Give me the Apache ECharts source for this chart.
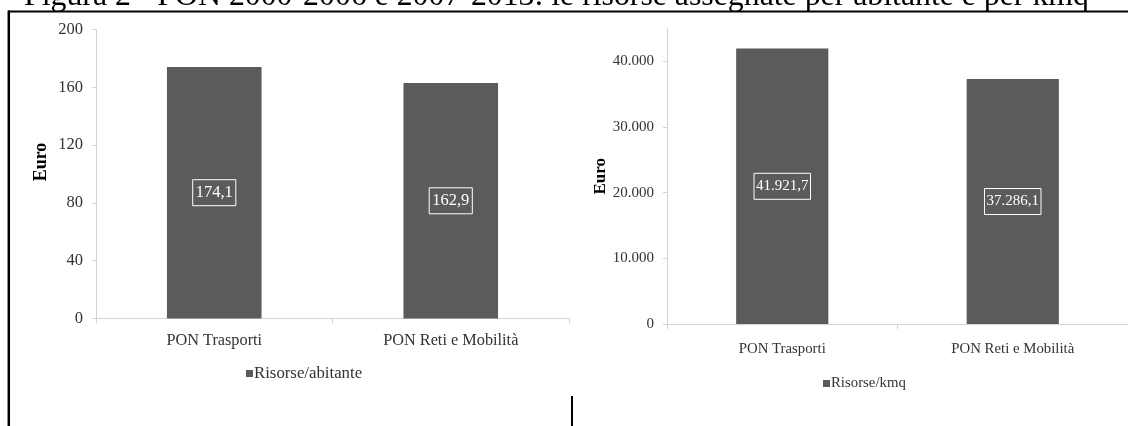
<!DOCTYPE html>
<html>
<head>
<meta charset="utf-8">
<script src="https://cdn.jsdelivr.net/npm/echarts@6/dist/echarts.min.js"></script>
<style>
  html, body { margin: 0; padding: 0; background: #fff; }
  #chart { width: 1128px; height: 426px; }
</style>
</head>
<body>
<div id="chart"></div>
<script>
// Programmi e valori
const categories = ['PON Trasporti', 'PON Reti e Mobilità'];
const risorsePerAbitante = [174.1, 162.9];
const risorsePerKmq = [41921.7, 37286.1];
const seriesNames = ['Risorse/abitante', 'Risorse/kmq'];
const abitanteTicks = [0, 40, 80, 120, 160, 200];
const kmqTicks = [0, 10000, 20000, 30000, 40000];
const titleText = 'Figura 2 - PON 2000-2006 e 2007-2013: le risorse assegnate per abitante e per kmq';

const SERIF = '"Liberation Serif", "Times New Roman", serif';
const BAR = '#5b5b5b';
const AXIS = '#d4d4d4';
const TEXT = '#333333';

// Formattazione italiana: punto per le migliaia, virgola per i decimali
function itNumber(v, decimals) {
  const fixed = Number(v).toFixed(decimals);
  const parts = fixed.split('.');
  const intPart = parts[0].replace(/\B(?=(\d{3})+(?!\d))/g, '.');
  return parts.length > 1 ? intPart + ',' + parts[1] : intPart;
}

const chart = echarts.init(document.getElementById('chart'));

const valueLabel = (fontSize, padding) => ({
  show: true,
  position: 'inside',
  color: '#fff',
  borderColor: '#fff',
  borderWidth: 1,
  padding: padding,
  fontFamily: SERIF,
  fontSize: fontSize,
  formatter: p => itNumber(p.value, 1)
});

chart.setOption({
  animation: false,
  backgroundColor: '#fff',
  textStyle: { fontFamily: SERIF },
  grid: [
    { left: 96, right: 559, top: 29.5, bottom: 107.5 },
    { left: 667, right: 0, top: 28.4, bottom: 102 }
  ],
  legend: [
    {
      data: [seriesNames[0]], left: 246, top: 365, padding: 0,
      icon: 'rect', itemWidth: 7, itemHeight: 7, itemGap: 4,
      textStyle: { fontFamily: SERIF, fontSize: 16.8, color: TEXT, padding: [0, 0, 0, -4] }
    },
    {
      data: [seriesNames[1]], left: 823, top: 376, padding: 0,
      icon: 'rect', itemWidth: 7, itemHeight: 7, itemGap: 4,
      textStyle: { fontFamily: SERIF, fontSize: 14.8, color: TEXT, padding: [0, 0, 0, -4] }
    }
  ],
  xAxis: [
    {
      type: 'category', gridIndex: 0, data: categories,
      axisLine: { lineStyle: { color: AXIS, width: 1 } },
      axisTick: { show: true, length: 5, lineStyle: { color: AXIS } },
      axisLabel: { color: TEXT, fontFamily: SERIF, fontSize: 16.3, margin: 14 }
    },
    {
      type: 'category', gridIndex: 1, data: categories,
      axisLine: { lineStyle: { color: AXIS, width: 1 } },
      axisTick: { show: true, length: 5, lineStyle: { color: AXIS } },
      axisLabel: { color: TEXT, fontFamily: SERIF, fontSize: 14.8, margin: 18 }
    }
  ],
  yAxis: [
    {
      type: 'value', gridIndex: 0, min: 0, max: 200, interval: 40,
      name: 'Euro', nameLocation: 'middle', nameRotate: 90, nameGap: 46,
      nameTextStyle: { fontFamily: SERIF, fontWeight: 'bold', fontSize: 18, color: '#000', padding: [0, 0, 0, 24] },
      axisLine: { show: true, lineStyle: { color: AXIS, width: 1 } },
      axisTick: { show: true, length: 4, lineStyle: { color: AXIS }, customValues: abitanteTicks },
      axisLabel: { color: TEXT, fontFamily: SERIF, fontSize: 16.5, margin: 13, customValues: abitanteTicks },
      splitLine: { show: false }
    },
    {
      type: 'value', gridIndex: 1, min: 0, max: 45000, interval: 10000,
      name: 'Euro', nameLocation: 'middle', nameRotate: 90, nameGap: 57,
      nameTextStyle: { fontFamily: SERIF, fontWeight: 'bold', fontSize: 17, color: '#000' },
      axisLine: { show: true, lineStyle: { color: AXIS, width: 1 } },
      axisTick: { show: true, length: 4, lineStyle: { color: AXIS }, customValues: kmqTicks },
      axisLabel: {
        color: TEXT, fontFamily: SERIF, fontSize: 15, margin: 13,
        customValues: kmqTicks,
        formatter: v => itNumber(v, 0)
      },
      splitLine: { show: false }
    }
  ],
  series: [
    {
      name: seriesNames[0], type: 'bar', xAxisIndex: 0, yAxisIndex: 0,
      data: risorsePerAbitante, barWidth: '40%',
      itemStyle: { color: BAR },
      label: valueLabel(16.5, [5, 3, 4, 3])
    },
    {
      name: seriesNames[1], type: 'bar', xAxisIndex: 1, yAxisIndex: 1,
      data: risorsePerKmq, barWidth: '40%',
      itemStyle: { color: BAR },
      label: valueLabel(15, [6, 2, 5, 2])
    }
  ],
  graphic: [
    {
      type: 'text', left: 24, top: -19, silent: true,
      style: { text: titleText, font: '31.8px ' + SERIF, fill: '#000' }
    },
    {
      type: 'line', silent: true,
      shape: { x1: 8, y1: 11.5, x2: 1128, y2: 11.5 },
      style: { stroke: '#000', lineWidth: 2 }
    },
    {
      type: 'line', silent: true,
      shape: { x1: 8.8, y1: 10.5, x2: 8.8, y2: 426 },
      style: { stroke: '#000', lineWidth: 2.5 }
    },
    {
      type: 'line', silent: true,
      shape: { x1: 572, y1: 396, x2: 572, y2: 426 },
      style: { stroke: '#000', lineWidth: 2 }
    }
  ]
});
</script>
</body>
</html>
